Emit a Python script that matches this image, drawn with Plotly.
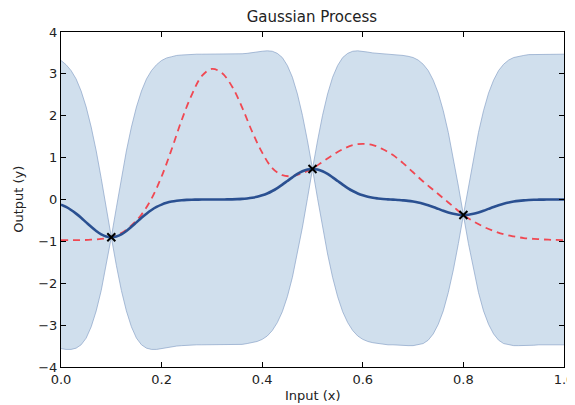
import plotly.graph_objects as go

# Grid of inputs (step 0.01)
x_grid = [i / 100 for i in range(101)]

# Posterior mean (blue line)
mean_vals = [
    -0.122, -0.178, -0.250, -0.338, -0.438, -0.546, -0.653, -0.752, -0.831, -0.882,
    -0.900, -0.882, -0.831, -0.752, -0.653, -0.546, -0.438, -0.338, -0.250, -0.178,
    -0.122, -0.080, -0.050, -0.031, -0.018, -0.010, -0.005, -0.003, -0.001, -0.001,
    0.000, 0.001, 0.001, 0.002, 0.004, 0.008, 0.014, 0.025, 0.041, 0.065,
    0.099, 0.144, 0.203, 0.274, 0.355, 0.443, 0.530, 0.610, 0.674, 0.716,
    0.730, 0.716, 0.674, 0.610, 0.530, 0.443, 0.355, 0.274, 0.203, 0.144,
    0.099, 0.065, 0.040, 0.024, 0.012, 0.004, -0.003, -0.011, -0.020, -0.032,
    -0.050, -0.073, -0.103, -0.139, -0.180, -0.224, -0.269, -0.309, -0.342, -0.363,
    -0.370, -0.363, -0.342, -0.309, -0.269, -0.224, -0.180, -0.139, -0.103, -0.073,
    -0.050, -0.033, -0.021, -0.013, -0.007, -0.004, -0.002, -0.001, -0.001, 0.000,
    0.000,
]

# Upper edge of confidence band
upper_vals = [
    3.32, 3.22, 3.08, 2.88, 2.59, 2.21, 1.73, 1.16, 0.50, -0.20,
    -0.90, -0.20, 0.50, 1.16, 1.73, 2.21, 2.59, 2.88, 3.08, 3.22,
    3.32, 3.38, 3.41, 3.44, 3.45, 3.46, 3.47, 3.47, 3.47, 3.47,
    3.47, 3.47, 3.47, 3.47, 3.47, 3.48, 3.48, 3.49, 3.51, 3.52,
    3.54, 3.55, 3.54, 3.49, 3.39, 3.20, 2.92, 2.52, 2.01, 1.40,
    0.73, 1.40, 2.01, 2.52, 2.92, 3.20, 3.39, 3.49, 3.54, 3.55,
    3.54, 3.52, 3.50, 3.49, 3.48, 3.47, 3.47, 3.46, 3.44, 3.42,
    3.39, 3.33, 3.23, 3.08, 2.85, 2.54, 2.12, 1.60, 0.99, 0.32,
    -0.37, 0.32, 0.99, 1.60, 2.12, 2.54, 2.85, 3.08, 3.23, 3.33,
    3.39, 3.42, 3.44, 3.46, 3.46, 3.47, 3.47, 3.47, 3.47, 3.47,
    3.47,
]

# Lower edge of confidence band
lower_vals = [
    -3.56, -3.58, -3.58, -3.55, -3.47, -3.31, -3.04, -2.66, -2.17, -1.57,
    -0.90, -1.57, -2.17, -2.66, -3.04, -3.31, -3.47, -3.55, -3.58, -3.58,
    -3.56, -3.54, -3.51, -3.50, -3.49, -3.48, -3.48, -3.47, -3.47, -3.47,
    -3.47, -3.47, -3.47, -3.47, -3.47, -3.46, -3.46, -3.44, -3.42, -3.39,
    -3.34, -3.26, -3.13, -2.94, -2.68, -2.32, -1.86, -1.30, -0.66, 0.03,
    0.73, 0.03, -0.66, -1.30, -1.86, -2.32, -2.68, -2.94, -3.13, -3.26,
    -3.34, -3.39, -3.42, -3.44, -3.46, -3.47, -3.47, -3.48, -3.48, -3.49,
    -3.49, -3.47, -3.44, -3.36, -3.21, -2.98, -2.66, -2.22, -1.68, -1.05,
    -0.37, -1.05, -1.68, -2.22, -2.66, -2.98, -3.21, -3.36, -3.44, -3.47,
    -3.49, -3.49, -3.49, -3.48, -3.48, -3.47, -3.47, -3.47, -3.47, -3.47,
    -3.47,
]

# True function (red dashed), step 0.02
true_x = [i / 50 for i in range(51)]
true_y = [
    -0.97, -0.97, -0.97, -0.96, -0.94, -0.90, -0.80, -0.62, -0.36, 0.02,
    0.55, 1.20, 1.90, 2.50, 2.95, 3.12, 3.02, 2.70, 2.20, 1.62,
    1.12, 0.75, 0.58, 0.56, 0.63, 0.74, 0.90, 1.06, 1.20, 1.30,
    1.33, 1.30, 1.20, 1.06, 0.87, 0.65, 0.43, 0.23, 0.03, -0.17,
    -0.37, -0.52, -0.65, -0.75, -0.83, -0.88, -0.92, -0.94, -0.955, -0.965,
    -0.97,
]

# Observations
obs_x = [0.1, 0.5, 0.8]
obs_y = [-0.90, 0.73, -0.37]

FONT = "DejaVu Sans"
TXT = "#222222"

fig = go.Figure()

fig.add_trace(go.Scatter(
    x=x_grid, y=lower_vals, mode="lines",
    line=dict(color="rgba(140,165,200,0.9)", width=0.8),
    showlegend=False, hoverinfo="skip",
))
fig.add_trace(go.Scatter(
    x=x_grid, y=upper_vals, mode="lines", fill="tonexty",
    fillcolor="rgb(208,223,237)",
    line=dict(color="rgba(140,165,200,0.9)", width=0.8),
    showlegend=False, hoverinfo="skip",
))
fig.add_trace(go.Scatter(
    x=true_x, y=true_y, mode="lines", line_shape="spline",
    line=dict(color="rgb(240,72,82)", width=1.8, dash="7px,5px"),
    showlegend=False,
))
fig.add_trace(go.Scatter(
    x=x_grid, y=mean_vals, mode="lines", line_shape="spline",
    line=dict(color="rgb(42,80,145)", width=2.6),
    showlegend=False,
))
fig.add_trace(go.Scatter(
    x=obs_x, y=obs_y, mode="markers",
    marker=dict(symbol="x-thin", size=8, color="black",
                line=dict(color="black", width=2)),
    showlegend=False,
))

axis_common = dict(
    showgrid=False, zeroline=False, showline=True, mirror="ticks",
    linecolor="black", linewidth=1.2, ticks="inside", ticklen=5,
    tickwidth=1, tickcolor="black", automargin=False,
    tickfont=dict(family=FONT, size=13, color=TXT),
)

# The page has an 8px body margin, so the figure is sized to fill the rest
fig.update_layout(
    width=567, height=397,
    margin=dict(l=53, r=11, t=24, b=38, autoexpand=False),
    paper_bgcolor="white", plot_bgcolor="white",
    font=dict(family=FONT, color=TXT),
    title=dict(text="Gaussian Process", x=0.536, xanchor="center",
               y=0.977, yanchor="middle",
               font=dict(family=FONT, size=15, color=TXT)),
    xaxis=dict(range=[0, 1], tickvals=[0, 0.2, 0.4, 0.6, 0.8, 1.0],
               ticktext=["0.0", "0.2", "0.4", "0.6", "0.8", "1.0"], **axis_common),
    yaxis=dict(range=[-4, 4], tickvals=[-4, -3, -2, -1, 0, 1, 2, 3, 4], **axis_common),
    annotations=[
        dict(text="Input (x)", xref="paper", yref="paper", x=0.5, y=-0.1134,
             xanchor="center", yanchor="bottom", showarrow=False,
             font=dict(family=FONT, size=13, color=TXT)),
        dict(text="Output (y)", xref="paper", yref="paper", x=-0.085, y=0.5,
             xanchor="center", yanchor="middle", textangle=-90, showarrow=False,
             font=dict(family=FONT, size=13, color=TXT)),
    ],
)

fig.write_html("out.html")
